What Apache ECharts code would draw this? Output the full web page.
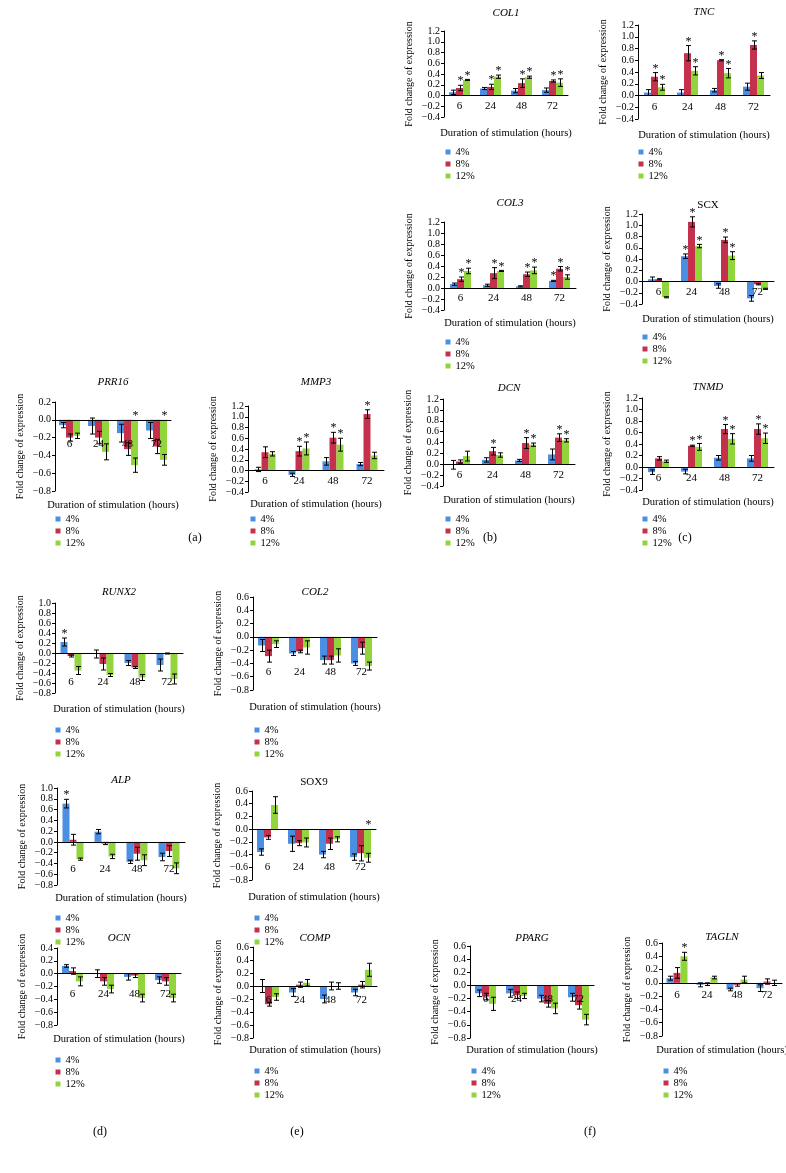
<!DOCTYPE html>
<html>
<head>
<meta charset="utf-8">
<script src="https://cdn.jsdelivr.net/npm/echarts@6/dist/echarts.min.js"></script>
<style>
html,body{margin:0;padding:0;background:#fff;}
#chart{width:786px;height:1173px;}
</style>
</head>
<body>
<div id="chart"></div>
<script>
// ---------- DATA ----------
const CATS = ['6', '24', '48', '72'];
const SERIES_NAMES = ['4%', '8%', '12%'];
const Y_TICKS_A = [-0.4, 1.2];   // min, max
const Y_TICKS_PRR = [-0.8, 0.2];
const Y_TICKS_RA = [-0.8, 1.0];
const Y_TICKS_C = [-0.8, 0.6];
const Y_TICKS_OCN = [-0.8, 0.4];

// means: [4%], [8%], [12%] per time point 6,24,48,72 ; errors same shape ; stars as [catIndex, seriesIndex]
const COL1_MEAN = [[0.06,0.13,0.09,0.10],[0.14,0.16,0.23,0.27],[0.29,0.35,0.34,0.24]];
const COL1_ERR  = [[0.04,0.02,0.04,0.04],[0.05,0.05,0.08,0.02],[0.01,0.03,0.02,0.07]];
const COL1_STAR = [[0,1],[0,2],[1,1],[1,2],[2,1],[2,2],[3,1],[3,2]];

const TNC_MEAN = [[0.05,0.05,0.09,0.15],[0.32,0.72,0.60,0.86],[0.14,0.42,0.38,0.34]];
const TNC_ERR  = [[0.05,0.05,0.03,0.06],[0.07,0.13,0.01,0.07],[0.05,0.07,0.08,0.05]];
const TNC_STAR = [[0,1],[0,2],[1,1],[1,2],[2,1],[2,2],[3,1]];

const COL3_MEAN = [[0.07,0.05,0.03,0.13],[0.16,0.27,0.25,0.35],[0.31,0.31,0.32,0.20]];
const COL3_ERR  = [[0.02,0.02,0.01,0.01],[0.04,0.10,0.04,0.04],[0.05,0.01,0.06,0.04]];
const COL3_STAR = [[0,1],[0,2],[1,1],[1,2],[2,1],[2,2],[3,0],[3,1],[3,2]];

const SCX_MEAN = [[0.04,0.45,-0.08,-0.30],[0.04,1.06,0.74,-0.05],[-0.28,0.63,0.46,-0.13]];
const SCX_ERR  = [[0.04,0.04,0.04,0.05],[0.01,0.09,0.05,0.01],[0.01,0.03,0.07,0.01]];
const SCX_STAR = [[1,0],[1,1],[1,2],[2,1],[2,2]];

const PRR16_MEAN = [[-0.06,-0.07,-0.15,-0.12],[-0.20,-0.20,-0.33,-0.30],[-0.18,-0.36,-0.51,-0.45]];
const PRR16_ERR  = [[0.03,0.09,0.10,0.09],[0.04,0.07,0.07,0.08],[0.03,0.09,0.08,0.06]];
const PRR16_STAR = [[2,2],[3,2]];

const MMP3_MEAN = [[0.02,-0.08,0.17,0.12],[0.34,0.36,0.61,1.05],[0.31,0.41,0.48,0.28]];
const MMP3_ERR  = [[0.04,0.03,0.07,0.03],[0.10,0.09,0.10,0.08],[0.04,0.12,0.12,0.06]];
const MMP3_STAR = [[1,1],[1,2],[2,1],[2,2],[3,1]];

const DCN_MEAN = [[-0.01,0.08,0.07,0.18],[0.05,0.24,0.39,0.49],[0.15,0.17,0.36,0.44]];
const DCN_ERR  = [[0.08,0.04,0.02,0.10],[0.03,0.07,0.10,0.07],[0.09,0.04,0.03,0.03]];
const DCN_STAR = [[1,1],[2,1],[2,2],[3,1],[3,2]];

const TNMD_MEAN = [[-0.09,-0.08,0.16,0.15],[0.15,0.37,0.66,0.66],[0.10,0.35,0.49,0.50]];
const TNMD_ERR  = [[0.04,0.04,0.04,0.05],[0.03,0.01,0.08,0.09],[0.02,0.06,0.09,0.09]];
const TNMD_STAR = [[1,1],[1,2],[2,1],[2,2],[3,1],[3,2]];

const RUNX2_MEAN = [[0.22,-0.02,-0.20,-0.24],[-0.06,-0.22,-0.29,-0.01],[-0.35,-0.44,-0.49,-0.52]];
const RUNX2_ERR  = [[0.08,0.08,0.05,0.12],[0.02,0.12,0.02,0.01],[0.08,0.03,0.06,0.10]];
const RUNX2_STAR = [[0,0]];

const COL2_MEAN = [[-0.13,-0.25,-0.35,-0.40],[-0.29,-0.22,-0.35,-0.17],[-0.11,-0.16,-0.28,-0.44]];
const COL2_ERR  = [[0.09,0.03,0.06,0.03],[0.09,0.02,0.06,0.09],[0.05,0.10,0.10,0.06]];
const COL2_STAR = [];

const ALP_MEAN = [[0.71,0.19,-0.37,-0.28],[0.04,-0.03,-0.22,-0.17],[-0.32,-0.27,-0.34,-0.49]];
const ALP_ERR  = [[0.08,0.04,0.03,0.07],[0.10,0.02,0.12,0.10],[0.02,0.04,0.10,0.10]];
const ALP_STAR = [[0,0]];

const SOX9_MEAN = [[-0.36,-0.23,-0.40,-0.44],[-0.13,-0.22,-0.23,-0.38],[0.38,-0.21,-0.16,-0.45]];
const SOX9_ERR  = [[0.05,0.12,0.05,0.05],[0.03,0.04,0.09,0.12],[0.13,0.07,0.04,0.07]];
const SOX9_STAR = [[3,2]];

const OCN_MEAN = [[0.12,0.00,-0.05,-0.10],[0.04,-0.12,-0.03,-0.12],[-0.12,-0.24,-0.38,-0.38]];
const OCN_ERR  = [[0.02,0.06,0.05,0.05],[0.05,0.06,0.03,0.06],[0.07,0.06,0.06,0.06]];
const OCN_STAR = [];

const COMP_MEAN = [[0.00,-0.10,-0.20,-0.10],[-0.28,0.02,0.00,0.02],[-0.17,0.05,0.00,0.25]];
const COMP_ERR  = [[0.10,0.06,0.06,0.05],[0.03,0.04,0.06,0.05],[0.05,0.05,0.05,0.10]];
const COMP_STAR = [];

const PPARG_MEAN = [[-0.12,-0.12,-0.20,-0.18],[-0.17,-0.15,-0.28,-0.30],[-0.28,-0.16,-0.35,-0.52]];
const PPARG_ERR  = [[0.05,0.06,0.05,0.06],[0.05,0.05,0.05,0.06],[0.10,0.04,0.08,0.08]];
const PPARG_STAR = [];

const TAGLN_MEAN = [[0.07,-0.03,-0.10,-0.08],[0.15,-0.02,-0.03,0.02],[0.40,0.08,0.05,0.00]];
const TAGLN_ERR  = [[0.03,0.03,0.02,0.05],[0.08,0.02,0.02,0.04],[0.06,0.02,0.05,0.04]];
const TAGLN_STAR = [[0,2]];

// ---------- LAYOUT / STYLE ----------
const FONT = '"Liberation Serif", "DejaVu Serif", serif';
const COLORS = ['#4a8fe2', '#c5304d', '#92d43c'];
const BW = 7;

// L.dy = pixel distance of category labels below the zero line
const PANELS = [
  {name:'COL1', it:true, m:COL1_MEAN, e:COL1_ERR, s:COL1_STAR, yr:Y_TICKS_A, L:{x:444, top:31, bot:117, w:124, tY:13, xtY:133, lX:448, lY:152, dy:11}},
  {name:'TNC', it:true, m:TNC_MEAN, e:TNC_ERR, s:TNC_STAR, yr:Y_TICKS_A, L:{x:638, top:25, bot:119, w:132, tY:12, xtY:135, lX:641, lY:152, dy:12}},
  {name:'COL3', it:true, m:COL3_MEAN, e:COL3_ERR, s:COL3_STAR, yr:Y_TICKS_A, L:{x:444, top:222, bot:310, w:132, tY:203, xtY:323, lX:448, lY:342, dy:10}},
  {name:'SCX', it:false, m:SCX_MEAN, e:SCX_ERR, s:SCX_STAR, yr:Y_TICKS_A, L:{x:642, top:214, bot:304, w:132, tY:205, xtY:319, lX:645, lY:337, dy:11}},
  {name:'PRR16', it:true, m:PRR16_MEAN, e:PRR16_ERR, s:PRR16_STAR, yr:Y_TICKS_PRR, L:{x:55, top:402, bot:491, w:116, tY:382, xtY:505, lX:58, lY:519, dy:24}},
  {name:'MMP3', it:true, m:MMP3_MEAN, e:MMP3_ERR, s:MMP3_STAR, yr:Y_TICKS_A, L:{x:248, top:406, bot:492, w:136, tY:382, xtY:504, lX:253, lY:519, dy:11}},
  {name:'DCN', it:true, m:DCN_MEAN, e:DCN_ERR, s:DCN_STAR, yr:Y_TICKS_A, L:{x:443, top:399, bot:486, w:132, tY:388, xtY:500, lX:448, lY:519, dy:11}},
  {name:'TNMD', it:true, m:TNMD_MEAN, e:TNMD_ERR, s:TNMD_STAR, yr:Y_TICKS_A, L:{x:642, top:398, bot:490, w:132, tY:387, xtY:502, lX:645, lY:519, dy:11}},
  {name:'RUNX2', it:true, m:RUNX2_MEAN, e:RUNX2_ERR, s:RUNX2_STAR, yr:Y_TICKS_RA, L:{x:55, top:603, bot:693, w:128, tY:592, xtY:709, lX:58, lY:730, dy:29}},
  {name:'COL2', it:true, m:COL2_MEAN, e:COL2_ERR, s:COL2_STAR, yr:Y_TICKS_C, L:{x:253, top:597, bot:690, w:124, tY:592, xtY:707, lX:257, lY:730, dy:35}},
  {name:'ALP', it:true, m:ALP_MEAN, e:ALP_ERR, s:ALP_STAR, yr:Y_TICKS_RA, L:{x:57, top:788, bot:885, w:128, tY:780, xtY:898, lX:58, lY:918, dy:27}},
  {name:'SOX9', it:false, m:SOX9_MEAN, e:SOX9_ERR, s:SOX9_STAR, yr:Y_TICKS_C, L:{x:252, top:791, bot:880, w:124, tY:782, xtY:897, lX:257, lY:918, dy:38}},
  {name:'OCN', it:true, m:OCN_MEAN, e:OCN_ERR, s:OCN_STAR, yr:Y_TICKS_OCN, L:{x:57, top:948, bot:1025, w:124, tY:938, xtY:1039, lX:58, lY:1060, dy:20}},
  {name:'COMP', it:true, m:COMP_MEAN, e:COMP_ERR, s:COMP_STAR, yr:Y_TICKS_C, L:{x:253, top:947, bot:1038, w:124, tY:938, xtY:1050, lX:257, lY:1071, dy:14}},
  {name:'PPARG', it:true, m:PPARG_MEAN, e:PPARG_ERR, s:PPARG_STAR, yr:Y_TICKS_C, L:{x:470, top:946, bot:1038, w:124, tY:938, xtY:1050, lX:474, lY:1071, dy:14}},
  {name:'TAGLN', it:true, m:TAGLN_MEAN, e:TAGLN_ERR, s:TAGLN_STAR, yr:Y_TICKS_C, L:{x:662, top:943, bot:1036, w:120, tY:937, xtY:1050, lX:666, lY:1071, dy:12}}
];

const PANEL_LABELS = [['(a)',195,538],['(b)',490,538],['(c)',685,538],['(d)',100,1132],['(e)',297,1132],['(f)',590,1132]];

function fmt(v){ const s = Math.abs(v).toFixed(1); return v < -1e-9 ? '\u2212' + s : s; }

function renderErr(params, api){
  const cat = api.value(0), si = api.value(1), m = api.value(2), e = api.value(3), st = api.value(4);
  const p = api.coord([cat, m]);
  const x = Math.round(p[0] + (si - 1) * BW) + 0.5;
  const yh = api.coord([cat, m + e])[1];
  const yl = api.coord([cat, m - e])[1];
  const y0 = api.coord([cat, 0])[1];
  const cw = 2.5;
  const ls = {stroke:'#000', lineWidth:1};
  const ch = [
    {type:'line', shape:{x1:x, y1:yh, x2:x, y2:yl}, style:ls},
    {type:'line', shape:{x1:x-cw, y1:yh, x2:x+cw, y2:yh}, style:ls},
    {type:'line', shape:{x1:x-cw, y1:yl, x2:x+cw, y2:yl}, style:ls}
  ];
  if (st) {
    const ys = m >= 0 ? yh : y0;
    ch.push({type:'text', style:{text:'*', x:x, y:ys + 2, align:'center', verticalAlign:'bottom', font:'12px ' + FONT, fill:'#000'}});
  }
  return {type:'group', children:ch};
}

function makeCatRenderer(dy){
  return function(params, api){
    const c = api.value(0);
    const p = api.coord([c, 0]);
    return {type:'text', style:{text:CATS[c], x:p[0], y:p[1] + dy, align:'center', verticalAlign:'middle',
      font:'11px ' + FONT, fill:'#000'}};
  };
}

const option = {
  animation:false,
  backgroundColor:'#fff',
  grid:[], xAxis:[], yAxis:[], series:[], legend:[], graphic:[]
};

PANELS.forEach((P, i) => {
  const L = P.L;
  option.grid.push({left:L.x, top:L.top, width:L.w, height:L.bot - L.top, containLabel:false});
  option.xAxis.push({
    gridIndex:i, type:'category', data:CATS, z:10,
    axisLine:{onZero:true, lineStyle:{color:'#000', width:1}},
    axisTick:{show:false},
    axisLabel:{show:false}
  });
  option.yAxis.push({
    gridIndex:i, type:'value', min:P.yr[0], max:P.yr[1], interval:0.2,
    axisLine:{show:true, onZero:false, lineStyle:{color:'#000', width:1}},
    axisTick:{show:true, length:3, lineStyle:{color:'#000'}},
    splitLine:{show:false},
    axisLabel:{fontFamily:FONT, fontSize:10, color:'#000', margin:4, formatter:fmt,
      showMinLabel:true, showMaxLabel:true, hideOverlap:false},
    name:'Fold change of expression', nameLocation:'middle', nameGap:30,
    nameTextStyle:{fontFamily:FONT, fontSize:10, color:'#000'}
  });
  SERIES_NAMES.forEach((sn, s) => {
    option.series.push({
      type:'bar', name:sn, xAxisIndex:i, yAxisIndex:i, data:P.m[s],
      barWidth:BW, barGap:'0%', itemStyle:{color:COLORS[s]}, silent:true
    });
  });
  const ed = [];
  for (let s = 0; s < 3; s++) {
    for (let c = 0; c < CATS.length; c++) {
      const star = P.s.some(q => q[0] === c && q[1] === s) ? 1 : 0;
      ed.push([c, s, P.m[s][c], P.e[s][c], star]);
    }
  }
  option.series.push({
    type:'custom', name:'err' + i, xAxisIndex:i, yAxisIndex:i, data:ed,
    encode:{x:0, y:2}, renderItem:renderErr, z:5, silent:true, clip:false
  });
  option.series.push({
    type:'custom', name:'cat' + i, xAxisIndex:i, yAxisIndex:i,
    data:CATS.map((c, k) => [k, 0]), encode:{x:0, y:1},
    renderItem:makeCatRenderer(L.dy), z:12, silent:true, clip:false
  });
  option.legend.push({
    orient:'vertical', left:L.lX - 2.5, top:L.lY - 6, padding:0, itemGap:0,
    itemWidth:5, itemHeight:5, icon:'rect', selectedMode:false,
    data:SERIES_NAMES,
    textStyle:{fontFamily:FONT, fontSize:10.5, color:'#000', lineHeight:12}
  });
  const cx = L.x + L.w / 2;
  option.graphic.push({type:'text', x:cx, y:L.tY, style:{text:P.name, align:'center', verticalAlign:'middle',
    font:(P.it ? 'italic ' : '') + '11px ' + FONT, fill:'#000'}});
  option.graphic.push({type:'text', x:cx, y:L.xtY, style:{text:'Duration of stimulation (hours)', align:'center', verticalAlign:'middle',
    font:'10.5px ' + FONT, fill:'#000'}});
});

PANEL_LABELS.forEach(p => {
  option.graphic.push({type:'text', x:p[1], y:p[2], style:{text:p[0], align:'center', verticalAlign:'middle', font:'12px ' + FONT, fill:'#000'}});
});

const chart = echarts.init(document.getElementById('chart'), null, {renderer:'canvas'});
chart.setOption(option);
</script>
</body>
</html>
